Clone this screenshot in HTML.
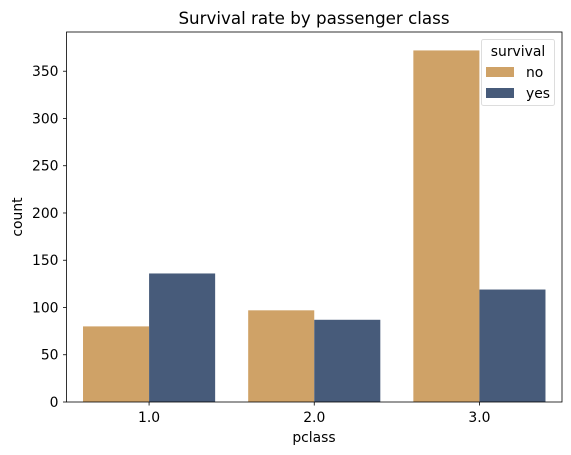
<!DOCTYPE html>
<html><head><meta charset="utf-8"><style>
body{margin:0;background:#fff;}
svg{display:block;font-family:"DejaVu Sans","Liberation Sans",sans-serif;}
</style></head><body>
<svg id="chart" width="571" height="455"></svg>
<script>
const categories = ["1.0","2.0","3.0"];
const seriesNames = ["no","yes"];
const noValues = [80, 97, 372];
const yesValues = [136, 87, 119];
const yTicks = [0,50,100,150,200,250,300,350];
const colors = ["#cfa267","#475b7a"];

const NS="http://www.w3.org/2000/svg";
const svg=document.getElementById('chart');
const L=66.5,R=562,T=32,B=402,yMax=391.5;
const y=v=>B-(B-T)*v/yMax;
const band=(R-L)/categories.length;
const xc=i=>L+band*(i+0.5);
function mk(tag,attrs,text){const e=document.createElementNS(NS,tag);for(const k in attrs)e.setAttribute(k,attrs[k]);if(text!=null)e.textContent=text;svg.appendChild(e);return e;}
const bw=band*0.4;
[noValues,yesValues].forEach((vals,s)=>{
  vals.forEach((v,i)=>{
    const x=xc(i)-bw+s*bw;
    const r=mk('rect',{x:x,y:y(v),width:bw,height:B-y(v),fill:colors[s]});
    
    
  });
});
yTicks.forEach(t=>{
  const l=mk('line',{x1:L-3.5,x2:L,y1:y(t),y2:y(t),stroke:'#000','stroke-width':0.8});
  
  
  const tx=mk('text',{x:L-8,y:y(t)+5,'text-anchor':'end','font-size':13.9},String(t));
  
  
});
categories.forEach((c,i)=>{
  const l=mk('line',{x1:xc(i),x2:xc(i),y1:B,y2:B+3.5,stroke:'#000','stroke-width':0.8});
  
  
  const tx=mk('text',{x:xc(i),y:B+20,'text-anchor':'middle','font-size':13.9},c);
  
  
});
</script>
<svg style="position:absolute;left:0;top:0" width="571" height="455">
<rect x="66.5" y="32" width="495.5" height="370" fill="none" stroke="#000" stroke-width="0.8"/>
<text x="314" y="24" text-anchor="middle" font-size="16.7" font-family="DejaVu Sans, Liberation Sans, sans-serif">Survival rate by passenger class</text>
<text x="314" y="442" text-anchor="middle" font-size="13.9" font-family="DejaVu Sans, Liberation Sans, sans-serif">pclass</text>
<text transform="translate(22,217) rotate(-90)" text-anchor="middle" font-size="13.9" font-family="DejaVu Sans, Liberation Sans, sans-serif">count</text>
<g font-family="DejaVu Sans, Liberation Sans, sans-serif" font-size="13.9">
<rect x="481.5" y="39.5" width="73" height="66" rx="2" fill="#fff" fill-opacity="0.8" stroke="#ddd"/>
<text x="518" y="56" text-anchor="middle">survival</text>
<rect x="486" y="67" width="28" height="10" fill="#cfa267"/>
<text x="526" y="77">no</text>
<rect x="486" y="88" width="28" height="10" fill="#475b7a"/>
<text x="526" y="98">yes</text>
</g>
</svg>
</body></html>
